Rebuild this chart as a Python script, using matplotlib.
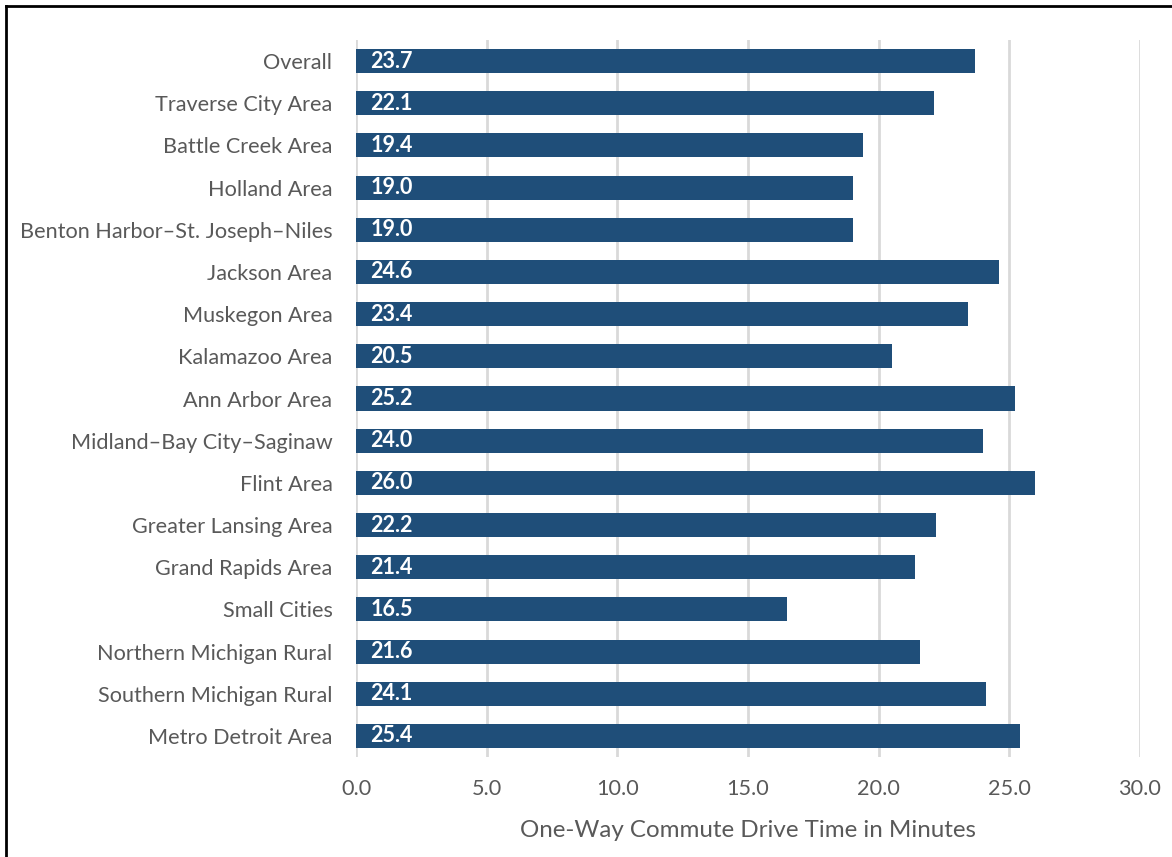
import matplotlib
matplotlib.use("Agg")
import matplotlib.pyplot as plt
from matplotlib.lines import Line2D

# data, top to bottom as in the chart
areas = ["Overall", "Traverse City Area", "Battle Creek Area", "Holland Area",
         "Benton Harbor\u2013St. Joseph\u2013Niles", "Jackson Area", "Muskegon Area",
         "Kalamazoo Area", "Ann Arbor Area", "Midland\u2013Bay City\u2013Saginaw",
         "Flint Area", "Greater Lansing Area", "Grand Rapids Area", "Small Cities",
         "Northern Michigan Rural", "Southern Michigan Rural", "Metro Detroit Area"]
minutes = [23.7, 22.1, 19.4, 19.0, 19.0, 24.6, 23.4, 20.5, 25.2, 24.0,
           26.0, 22.2, 21.4, 16.5, 21.6, 24.1, 25.4]
xticks = [0, 5, 10, 15, 20, 25, 30]

plt.rcParams['font.family'] = ['Lato', 'DejaVu Sans']
bar_color = "#1F4E79"
text_gray = "#595959"

fig = plt.figure(figsize=(11.72, 8.57), dpi=100)
ax = fig.add_axes([0.3038, 0.1167, 0.6689, 0.8366])

ypos = list(range(len(areas)))
ax.barh(ypos, minutes, height=0.57, color=bar_color, zorder=3)
for y, v in zip(ypos, minutes):
    ax.text(0.55, y, f"{v:.1f}", color="white", fontweight="bold",
            fontsize=15.5, va="center", ha="left", zorder=4)

ax.set_ylim(len(areas) - 0.5, -0.5)
ax.set_xlim(0, 30)
ax.set_yticks(ypos)
ax.set_yticklabels(areas, fontsize=15.6, color=text_gray)
ax.set_xticks(xticks)
ax.set_xticklabels([f"{t:.1f}" for t in xticks], fontsize=15.6, color=text_gray)
ax.tick_params(axis="y", length=0, pad=17)
ax.tick_params(axis="x", length=0, pad=16)
ax.grid(axis="x", color="#D9D9D9", linewidth=2, zorder=0)
for s in ax.spines.values():
    s.set_visible(False)
ax.set_xlabel("One-Way Commute Drive Time in Minutes", fontsize=17.4,
              color=text_gray, labelpad=15)

# outer frame (left and top visible)
fig.add_artist(Line2D([0.0055, 0.0055], [0, 0.9935], transform=fig.transFigure,
                      color="black", linewidth=2))
fig.add_artist(Line2D([0.0055, 1], [0.9935, 0.9935], transform=fig.transFigure,
                      color="black", linewidth=2))

fig.savefig("out.png", dpi=100)
